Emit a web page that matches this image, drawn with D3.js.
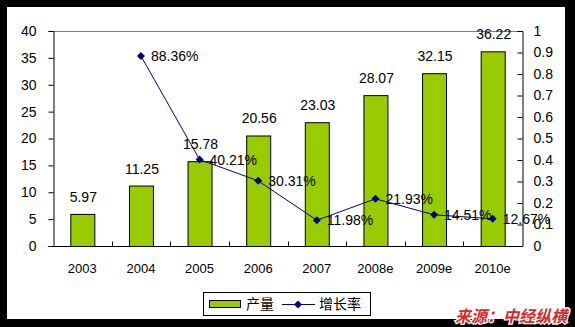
<!DOCTYPE html>
<html>
<head>
<meta charset="utf-8">
<script src="https://cdn.jsdelivr.net/npm/d3@7"></script>
<style>
  html, body { margin: 0; padding: 0; background: #000; }
  svg { display: block; }
</style>
</head>
<body>
<svg id="chart" width="575" height="327"></svg>
<script>
// Output (产量) and growth rate (增长率), 2003–2010e
const years = ["2003", "2004", "2005", "2006", "2007", "2008e", "2009e", "2010e"];
const output = [5.97, 11.25, 15.78, 20.56, 23.03, 28.07, 32.15, 36.22];
const growthYears = ["2004", "2005", "2006", "2007", "2008e", "2009e", "2010e"];
const growth = [0.8836, 0.4021, 0.3031, 0.1198, 0.2193, 0.1451, 0.1267];
const leftTicks = [0, 5, 10, 15, 20, 25, 30, 35, 40];
const rightTicks = [0, 0.1, 0.2, 0.3, 0.4, 0.5, 0.6, 0.7, 0.8, 0.9, 1];

const svg = d3.select("#chart");
const font = "'Liberation Sans', Arial, sans-serif";
const cjk = "'Noto Sans CJK SC', sans-serif";

// white panel inside the black frame
svg.append("rect").attr("x", 7).attr("y", 7).attr("width", 558).attr("height", 312).attr("fill", "#fff");

const m = { left: 53, right: 522, top: 31, bottom: 246 };
const x = d3.scaleBand().domain(years).range([m.left, m.right]).paddingInner(0).paddingOuter(0);
const yL = d3.scaleLinear().domain([0, 40]).range([m.bottom, m.top]);
const yR = d3.scaleLinear().domain([0, 1]).range([m.bottom, m.top]);

// top border of plot area
svg.append("line").attr("x1", m.left).attr("x2", m.right).attr("y1", m.top + 0.5).attr("y2", m.top + 0.5)
  .attr("stroke", "#808080").attr("stroke-width", 1);

// bars
const bw = 24;
svg.append("g").selectAll("rect").data(output).join("rect")
  .attr("x", (d, i) => x(years[i]) + x.bandwidth() / 2 - bw / 2 + 0.5)
  .attr("y", d => yL(d) + 0.5)
  .attr("width", bw)
  .attr("height", d => m.bottom - yL(d))
  .attr("fill", "#99cc00").attr("stroke", "#000").attr("stroke-width", 1);

// bar value labels
svg.append("g").selectAll("text").data(output).join("text")
  .attr("x", (d, i) => x(years[i]) + x.bandwidth() / 2 + 1)
  .attr("y", d => yL(d) - 12)
  .attr("text-anchor", "middle")
  .attr("font-family", font).attr("font-size", 14).attr("fill", "#000")
  .text(d => d.toFixed(2));

// left axis
const gL = svg.append("g").attr("transform", `translate(${m.left + 0.5},0)`)
  .call(d3.axisLeft(yL).tickValues(leftTicks).tickSize(5).tickPadding(12).tickFormat(d3.format("d")));
// right axis (ticks inside)
const gR = svg.append("g").attr("transform", `translate(${m.right + 0.5},0)`)
  .call(d3.axisRight(yR).tickValues(rightTicks).tickSize(-5).tickPadding(11).tickFormat(d => d === 0 ? "0" : d === 1 ? "1" : d3.format(".1f")(d)));
// bottom axis with inside ticks at category boundaries
const gB = svg.append("g").attr("transform", `translate(0,${m.bottom + 0.5})`)
  .call(d3.axisBottom(x).tickSize(0).tickPadding(17));
gB.selectAll(".tick line").remove();
gB.selectAll(".boundary").data(years.slice(1)).join("line")
  .attr("x1", d => Math.round(x(d)) + 0.5).attr("x2", d => Math.round(x(d)) + 0.5)
  .attr("y1", 0).attr("y2", -5).attr("stroke", "#000");

[gL, gR, gB].forEach(g => {
  g.select(".domain").attr("stroke", "#000");
  g.selectAll(".tick line").attr("stroke", "#000");
  g.selectAll("text").attr("font-family", font).attr("font-size", 14).attr("fill", "#000");
});
gB.select(".domain").attr("d", `M${m.left},0H${m.right + 1}`);
gB.selectAll("text").attr("font-size", 13);

// growth-rate line
const cx = d => x(d) + x.bandwidth() / 2;
const pts = growth.map((g, i) => [cx(growthYears[i]), yR(g)]);
svg.append("path").attr("d", d3.line()(pts))
  .attr("fill", "none").attr("stroke", "#000080").attr("stroke-width", 1);
svg.append("g").selectAll("path").data(pts).join("path")
  .attr("transform", d => `translate(${d[0]},${d[1]})`)
  .attr("d", "M0,-4L4,0L0,4L-4,0Z")
  .attr("fill", "#000080");
svg.append("g").selectAll("text").data(growth).join("text")
  .attr("x", (d, i) => pts[i][0] + 10)
  .attr("y", (d, i) => pts[i][1] + 5)
  .attr("font-family", font).attr("font-size", 14).attr("fill", "#000")
  .text(d => (d * 100).toFixed(2) + "%");

// legend
const lg = svg.append("g");
lg.append("rect").attr("x", 203.5).attr("y", 292.5).attr("width", 167).attr("height", 23)
  .attr("fill", "#fff").attr("stroke", "#000");
lg.append("rect").attr("x", 209.5).attr("y", 300.5).attr("width", 31).attr("height", 7)
  .attr("fill", "#99cc00").attr("stroke", "#000");
lg.append("text").attr("x", 246).attr("y", 309).attr("font-family", cjk).attr("font-size", 14).text("产量");
lg.append("line").attr("x1", 282).attr("x2", 315).attr("y1", 304.5).attr("y2", 304.5).attr("stroke", "#000080");
lg.append("path").attr("transform", "translate(298,304.5)").attr("d", "M0,-4L4,0L0,4L-4,0Z").attr("fill", "#000080");
lg.append("text").attr("x", 319).attr("y", 309).attr("font-family", cjk).attr("font-size", 14).text("增长率");

// source note
svg.append("text").attr("x", 567).attr("y", 322).attr("text-anchor", "end")
  .attr("font-family", cjk).attr("font-size", 16).attr("font-weight", "bold").attr("font-style", "italic")
  .attr("fill", "#d42a2a").attr("stroke", "#fff").attr("stroke-width", 2.5).attr("paint-order", "stroke")
  .text("来源：中经纵横");
</script>
</body>
</html>
